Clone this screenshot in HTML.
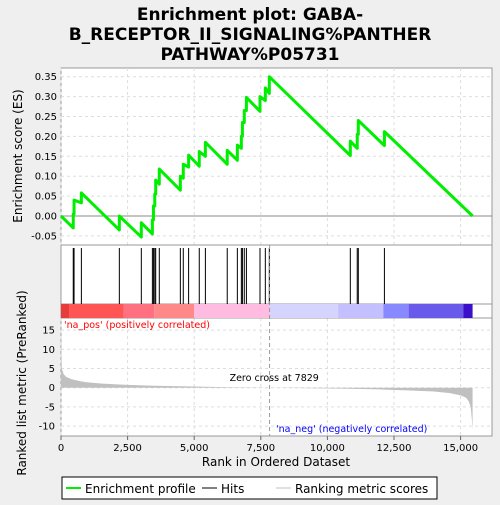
<!DOCTYPE html>
<html><head><meta charset="utf-8"><style>
body{margin:0;background:#efefef;font-family:"Liberation Sans","DejaVu Sans",sans-serif}
</style></head><body>
<svg width="500" height="500" xmlns="http://www.w3.org/2000/svg" font-family="DejaVu Sans, Liberation Sans, sans-serif">
<g id="root"></g>
</svg>
<script>
const hitRanks=[460,490,765,2190,3015,3430,3470,3520,3555,3690,4480,4590,4790,5190,5420,6240,6620,6770,6810,6880,6960,7470,7670,7820,10860,11120,11160,12140];
const esBefore=[-0.03,0.005,0.033,-0.035,-0.053,-0.045,-0.01,0.025,0.055,0.08,0.065,0.095,0.123,0.125,0.15,0.13,0.14,0.17,0.2,0.235,0.265,0.263,0.29,0.308,0.152,0.17,0.205,0.177];
const esAfter=[0.005,0.04,0.058,0.0,-0.017,-0.01,0.025,0.055,0.09,0.118,0.1,0.13,0.153,0.162,0.185,0.165,0.178,0.2,0.235,0.265,0.298,0.3,0.322,0.35,0.188,0.205,0.24,0.212];
const totalN=15450;
const esTicks=[-0.05,0,0.05,0.1,0.15,0.2,0.25,0.3,0.35];
const xTicks=[0,2500,5000,7500,10000,12500,15000];
const xTickLabels=["0","2,500","5,000","7,500","10,000","12,500","15,000"];
const metricTicks=[15,10,5,0,-5,-10];
const metricRanks=[0,30,100,200,400,700,1000,1500,2000,2500,3500,5000,6500,7829,9000,10500,12000,13000,14000,14600,15000,15200,15300,15380,15420,15450];
const metricVals=[15,5,3.5,2.8,2.2,1.7,1.4,1.1,0.9,0.75,0.5,0.3,0.1,0,-0.1,-0.25,-0.45,-0.7,-1.0,-1.4,-2.0,-2.6,-3.5,-5,-8,-11];
const barColors=["#e83c3c","#ff5555","#ff7080","#ff8888","#ffbce0","#d4d4ff","#c4c0ff","#8888ff","#6a5aeb","#3a10c8"];
const barStarts=[0,300,2350,3500,5000,7829,10400,12100,13050,15100];
const barEnds=[300,2350,3500,5000,7829,10400,12100,13050,15100,15450];

const L=61,R=492,T=68,ESB=245,HB=304,CB=318,B=436;
const xS=r=>L+r*(66.6/2500);
const yES=v=>216-v*(139.3/0.35);
const yM=v=>387.7-v*(19.2/5);
const NS="http://www.w3.org/2000/svg";
const root=document.getElementById('root');
function mk(tag,attrs,txt){const e=document.createElementNS(NS,tag);for(const k in attrs)e.setAttribute(k,attrs[k]);if(txt!=null)e.textContent=txt;root.appendChild(e);return e;}
let e;
e=mk('rect',{x:L,y:T,width:R-L,height:B-T,fill:'#fff',stroke:'#999'});


// grid
xTicks.forEach((t,i)=>{
 e=mk('line',{x1:xS(t),x2:xS(t),y1:T,y2:ESB,stroke:'#ddd','stroke-dasharray':'3,3'});
 
 
 e=mk('line',{x1:xS(t),x2:xS(t),y1:CB,y2:B,stroke:'#ddd','stroke-dasharray':'3,3'});
 
 
 e=mk('line',{x1:xS(t),x2:xS(t),y1:B,y2:B+4,stroke:'#666'});
 
 
 e=mk('text',{x:xS(t),y:B+15,'font-size':10,'text-anchor':'middle'},xTickLabels[i]);
 
 
});
esTicks.forEach(t=>{
 e=mk('line',{x1:L,x2:R,y1:yES(t),y2:yES(t),stroke:t===0?'#888':'#ddd','stroke-dasharray':t===0?'':'3,3'});
 
 
 e=mk('text',{x:L-4,y:yES(t)+3.5,'font-size':10,'text-anchor':'end'},t.toFixed(2));
 
 
});
metricTicks.forEach(t=>{
 e=mk('line',{x1:L,x2:R,y1:yM(t),y2:yM(t),stroke:'#ddd','stroke-dasharray':'3,3'});
 
 
 e=mk('text',{x:L-6,y:yM(t)+3.5,'font-size':10,'text-anchor':'end'},String(t));
 
 
});
// panel separators
[ESB,HB,CB].forEach(y=>{e=mk('line',{x1:L,x2:R,y1:y,y2:y,stroke:'#999'});
 
 });
// ES curve
let pts=[[0,0]];
hitRanks.forEach((r,i)=>{pts.push([r,esBefore[i]]);pts.push([r,esAfter[i]]);});
pts.push([totalN,0]);
e=mk('polyline',{points:pts.map(p=>xS(p[0])+','+yES(p[1])).join(' '),fill:'none',stroke:'#00ee00','stroke-width':3,'stroke-linejoin':'round'});


// hits
hitRanks.forEach(r=>{e=mk('line',{x1:xS(r),x2:xS(r),y1:ESB+3,y2:HB,stroke:'#000','stroke-width':1});
 
 });
// color bar
barColors.forEach((c,i)=>{e=mk('rect',{x:xS(barStarts[i]),y:HB,width:xS(barEnds[i])-xS(barStarts[i]),height:CB-HB,fill:c});
 
 });
// metric area
let mp=metricRanks.map((r,i)=>xS(r)+','+yM(metricVals[i]));
e=mk('polygon',{points:xS(0)+','+yM(0)+' '+mp.join(' ')+' '+xS(totalN)+','+yM(0),fill:'#c0c0c0'});


// zero cross
e=mk('line',{x1:xS(7829),x2:xS(7829),y1:T+177,y2:B,stroke:'#999','stroke-dasharray':'4,3'});


e=mk('text',{x:xS(7829)-40,y:381,'font-size':9.5},'Zero cross at 7829');


e=mk('text',{x:64,y:328,'font-size':9.5,fill:'#ff0000'},"'na_pos' (positively correlated)");


e=mk('text',{x:276,y:432,'font-size':9.5,fill:'#0000ff'},"'na_neg' (negatively correlated)");


// titles
e=mk('text',{x:250,y:20,'font-size':17,'font-weight':'bold','text-anchor':'middle'},'Enrichment plot: GABA-');


e=mk('text',{x:250,y:40,'font-size':17,'font-weight':'bold','text-anchor':'middle'},'B_RECEPTOR_II_SIGNALING%PANTHER');


e=mk('text',{x:250,y:60,'font-size':17,'font-weight':'bold','text-anchor':'middle'},'PATHWAY%P05731');


e=mk('text',{x:276,y:466,'font-size':12,'text-anchor':'middle'},'Rank in Ordered Dataset');


e=mk('text',{x:22,y:156,'font-size':12,'text-anchor':'middle',transform:'rotate(-90 22 156)'},'Enrichment score (ES)');


e=mk('text',{x:26,y:383,'font-size':12,'text-anchor':'middle',transform:'rotate(-90 26 383)'},'Ranked list metric (PreRanked)');


// legend
e=mk('rect',{x:62,y:477,width:375,height:22,fill:'#fff',stroke:'#000'});


e=mk('line',{x1:66,x2:81,y1:488,y2:488,stroke:'#00ee00','stroke-width':2});


e=mk('text',{x:85,y:493,'font-size':12},'Enrichment profile');


e=mk('line',{x1:202,x2:217,y1:488,y2:488,stroke:'#000','stroke-width':1});


e=mk('text',{x:221,y:493,'font-size':12},'Hits');


e=mk('line',{x1:276,x2:291,y1:488,y2:488,stroke:'#c0c0c0','stroke-width':1});


e=mk('text',{x:295,y:493,'font-size':12},'Ranking metric scores');


</script>
</body></html>
